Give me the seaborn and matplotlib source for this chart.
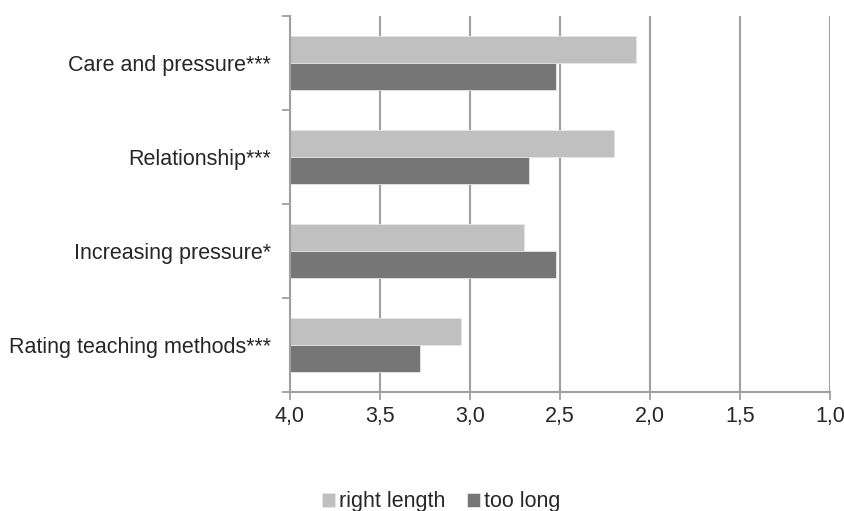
import pandas as pd
import matplotlib
matplotlib.use('Agg')
import matplotlib.pyplot as plt
import seaborn as sns

categories = ["Care and pressure***", "Relationship***",
              "Increasing pressure*", "Rating teaching methods***"]
right_length = [2.08, 2.20, 2.70, 3.05]
too_long = [2.52, 2.67, 2.52, 3.28]
groups = ["right length", "too long"]
tick_values = [4.0, 3.5, 3.0, 2.5, 2.0, 1.5, 1.0]
tick_labels = ["4,0", "3,5", "3,0", "2,5", "2,0", "1,5", "1,0"]

scale_start = 4.0  # bars grow from 4,0 towards 1,0

sns.set_style('white')
plt.rcParams['font.family'] = ['Liberation Sans', 'DejaVu Sans']
fs = 15.5

rows = []
for cat, r, t in zip(categories, right_length, too_long):
    rows.append({'category': cat, 'group': groups[0], 'score': r})
    rows.append({'category': cat, 'group': groups[1], 'score': t})
df = pd.DataFrame(rows)
df['dist'] = scale_start - df['score']

fig = plt.figure(figsize=(8.45, 5.11), dpi=100)
ax = fig.add_axes([290 / 845, 1 - 392 / 511, 540 / 845, 376 / 511])

grey = '#A0A0A0'
sns.barplot(data=df, y='category', x='dist', hue='group', hue_order=groups,
            order=categories, palette=['#C0C0C0', '#767676'], saturation=1,
            width=0.565, orient='h', edgecolor='#E6E6E6', linewidth=0.6,
            errorbar=None, ax=ax)
for p in ax.patches:
    p.set_zorder(3)

ax.set_xlim(0, 3)
ax.set_ylim(3.5, -0.5)
ax.set_xticks([scale_start - v for v in tick_values])
ax.set_xticklabels(tick_labels, fontsize=fs)
ax.set_yticks(range(len(categories)))
ax.set_yticklabels(categories, fontsize=fs)
ax.set_yticks([i - 0.5 for i in range(len(categories) + 1)], minor=True)
ax.tick_params(axis='y', which='major', length=0, pad=14)
ax.tick_params(axis='y', which='minor', length=6, width=1.3, color=grey, left=True)
ax.tick_params(axis='x', which='major', length=6, width=1.3, color=grey,
               bottom=True, pad=4)
ax.xaxis.grid(True, color=grey, linewidth=1.5, zorder=0)
ax.set_axisbelow(True)
ax.set_xlabel('')
ax.set_ylabel('')

for side in ['top', 'right']:
    ax.spines[side].set_visible(False)
for side in ['left', 'bottom']:
    ax.spines[side].set_color(grey)
    ax.spines[side].set_linewidth(1.5)
    ax.spines[side].set_zorder(4)

handles, labels = ax.get_legend_handles_labels()
ax.legend_.remove()
fig.legend(handles, labels, loc='center', bbox_to_anchor=(441 / 845, 1 - 502 / 511),
           ncol=2, frameon=False, fontsize=fs, handlelength=0.6, handleheight=0.6,
           handletextpad=0.2, columnspacing=1.0)

fig.savefig('out.png', dpi=100)
